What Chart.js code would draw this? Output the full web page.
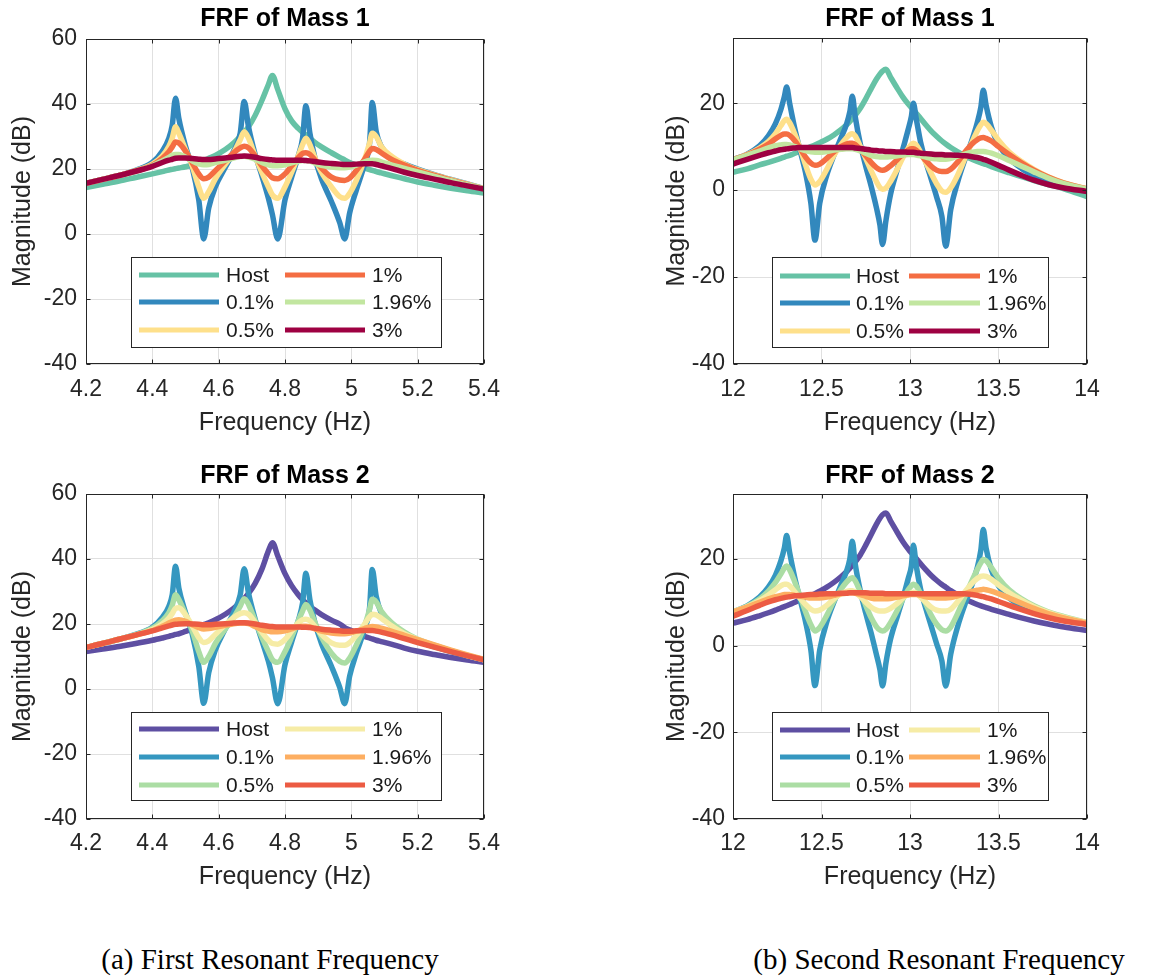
<!DOCTYPE html>
<html><head><meta charset="utf-8">
<script src="https://cdn.jsdelivr.net/npm/chart.js@4.4.1/dist/chart.umd.min.js"></script>
<style>
body{margin:0;background:#fff;width:1167px;height:976px;position:relative;overflow:hidden;}
canvas{position:absolute;}
.cap{position:absolute;font-family:'Liberation Serif','Times New Roman',serif;font-size:29px;line-height:34px;color:#000;white-space:nowrap;transform:translateX(-50%);}
</style></head><body>
<canvas id="c1" width="560" height="450" style="left:0;top:0"></canvas>
<canvas id="c2" width="587" height="450" style="left:580px;top:0"></canvas>
<canvas id="c3" width="560" height="450" style="left:0;top:450px"></canvas>
<canvas id="c4" width="587" height="450" style="left:580px;top:450px"></canvas>
<div class="cap" style="left:270px;top:942px">(a) First Resonant Frequency</div>
<div class="cap" style="left:939px;top:942px">(b) Second Resonant Frequency</div>
<script>
const seriesLabels = ['Host','0.1%','0.5%','1%','1.96%','3%'];
const colorsMass1 = ['#66c2a5','#3288bd','#fee08b','#f46d43','#c2e6a0','#9e0142'];
const colorsMass2 = ['#5e4fa2','#3597c0','#abdda4','#f6eca6','#fdae61','#ec5b43'];

const xFirst = [4.20,4.25,4.30,4.35,4.40,4.43,4.45,4.46,4.47,4.48,4.50,4.52,4.54,4.555,4.57,4.59,4.62,4.645,4.665,4.677,4.69,4.71,4.73,4.75,4.762,4.778,4.80,4.82,4.84,4.853,4.863,4.875,4.89,4.91,4.94,4.965,4.98,4.995,5.015,5.04,5.055,5.063,5.075,5.09,5.12,5.16,5.20,5.25,5.30,5.35,5.40];
const xSecond = [12.00,12.08,12.15,12.20,12.24,12.27,12.29,12.303,12.32,12.35,12.38,12.41,12.44,12.463,12.49,12.53,12.57,12.61,12.64,12.66,12.674,12.69,12.72,12.75,12.78,12.81,12.83,12.845,12.864,12.89,12.93,12.96,12.99,13.008,13.019,13.035,13.06,13.09,13.12,13.15,13.18,13.202,13.23,13.27,13.31,13.35,13.38,13.40,13.414,13.43,13.46,13.50,13.56,13.63,13.70,13.78,13.87,14.00];

// Mass 1, first resonance (dB)
const m1aHost = [14.3,15.3,16.3,17.4,18.5,19.2,19.7,19.9,20.1,20.3,20.7,21.2,22.0,22.6,23.3,24.2,26.0,28.0,30.0,31.3,33.0,36.5,41.0,46.0,48.8,44.5,38.5,34.8,32.5,31.3,30.5,29.5,28.2,26.8,25.0,23.6,22.8,22.0,21.2,20.3,19.8,19.6,19.2,18.8,18.0,17.0,16.0,15.0,14.1,13.3,12.6];
const m1a01 = [15.6,16.8,18.0,19.6,22.0,25.5,29.5,33.5,41.8,35.5,27.0,20.5,10.5,-1.5,8.0,14.5,20.5,25.5,31.0,40.8,33.0,24.5,18.0,11.0,6.0,-1.5,10.5,17.5,24.0,29.5,39.5,31.0,23.5,17.0,10.0,3.5,-1.5,6.5,13.5,21.5,28.0,40.5,31.5,27.0,23.5,21.5,20.0,18.3,16.8,15.4,14.0];
const m1a05 = [15.6,16.8,18.0,19.5,21.5,24.0,27.0,29.5,33.0,31.0,26.0,21.0,14.5,11.0,13.0,17.0,21.5,25.0,29.0,31.5,29.5,24.0,19.0,14.5,12.0,11.0,14.5,19.0,24.0,27.5,29.5,27.5,23.5,19.0,14.5,11.5,11.0,12.5,16.5,23.0,28.0,31.0,30.0,27.0,24.0,21.5,19.8,18.2,16.7,15.3,14.0];
const m1a1 = [15.6,16.8,18.0,19.4,21.2,23.3,25.3,26.8,28.3,28.0,25.5,22.0,18.5,17.0,17.5,19.5,22.5,25.0,26.5,27.0,26.5,24.0,21.0,18.5,17.3,17.0,18.5,21.0,23.5,24.8,25.0,24.5,22.8,20.3,17.5,16.6,16.5,17.2,19.5,23.0,25.5,26.3,26.0,25.0,23.0,21.2,19.6,18.0,16.6,15.2,13.9];
const m1a196 = [15.6,16.8,18.0,19.3,21.0,22.5,23.6,24.2,24.5,24.5,23.6,22.5,21.6,21.3,21.4,22.0,22.7,23.4,23.8,23.9,23.7,23.0,22.0,21.3,21.0,21.0,21.3,21.9,22.4,22.6,22.6,22.4,21.8,21.1,20.6,20.4,20.4,20.6,21.2,22.2,22.6,22.7,22.6,22.2,21.3,20.2,19.1,17.7,16.4,15.1,13.9];
const m1a3 = [15.6,16.8,18.0,19.3,20.8,22.0,22.7,23.0,23.3,23.4,23.4,23.2,23.0,22.9,22.9,23.1,23.4,23.7,23.9,24.0,23.9,23.6,23.2,22.9,22.8,22.7,22.7,22.7,22.7,22.7,22.6,22.5,22.3,22.0,21.7,21.5,21.4,21.4,21.5,21.6,21.6,21.6,21.4,21.0,20.2,19.0,18.0,16.9,15.8,14.8,13.8];

// Mass 1, second resonance (dB)
const m1bHost = [4.1,4.9,5.8,6.4,6.9,7.3,7.6,7.8,8.0,8.5,9.0,9.5,10.0,10.4,10.9,11.7,12.7,13.9,15.0,15.8,16.4,17.2,18.9,21.0,23.3,25.5,26.7,27.4,27.8,26.0,23.3,21.4,19.8,19.0,18.5,17.7,16.5,15.0,13.6,12.4,11.3,10.6,9.8,8.8,7.9,7.1,6.6,6.3,6.1,5.9,5.4,4.8,4.0,3.1,2.2,1.3,0.3,-1.5];
const m1b01 = [7.0,8.3,10.2,12.5,15.3,18.5,21.5,23.7,20.0,14.0,9.0,4.0,-3.0,-11.5,-3.0,3.5,8.0,12.0,15.0,18.0,21.6,17.0,10.5,5.5,1.0,-4.0,-8.0,-12.5,-7.0,-1.0,5.0,9.5,14.0,17.0,20.0,16.5,11.0,6.5,2.5,-1.5,-6.0,-12.9,-4.5,2.0,7.0,11.5,15.5,19.0,23.0,19.5,14.5,10.5,7.3,5.0,3.4,1.9,0.8,0.3];
const m1b05 = [7.0,8.2,9.7,11.2,13.0,14.8,16.0,16.3,15.5,12.8,9.5,5.8,2.5,1.2,2.0,4.8,8.0,10.5,12.0,12.8,13.0,12.5,10.0,7.3,4.5,2.0,0.6,0.2,0.5,2.0,5.0,7.5,9.6,10.5,10.8,10.4,8.7,6.3,3.8,1.5,-0.2,-0.5,0.5,3.5,7.3,11.0,13.6,15.0,15.6,15.3,13.8,11.5,8.8,6.6,4.8,3.1,1.7,0.3];
const m1b1 = [7.0,8.1,9.4,10.6,11.8,12.6,12.9,12.9,12.6,11.3,9.5,7.6,6.2,5.7,6.0,7.3,8.8,10.0,10.6,10.8,10.8,10.5,9.3,7.9,6.4,5.2,4.7,4.6,4.8,5.6,7.1,8.3,9.2,9.5,9.5,9.2,8.2,6.8,5.5,4.6,4.3,4.3,4.8,6.5,8.7,10.6,11.6,12.0,12.1,11.9,11.3,10.0,8.2,6.3,4.6,3.0,1.6,0.3];
const m1b196 = [7.0,8.0,9.0,9.7,10.2,10.4,10.5,10.5,10.4,10.0,9.5,9.1,8.8,8.7,8.7,8.9,9.2,9.4,9.5,9.5,9.5,9.4,9.0,8.5,8.0,7.7,7.6,7.6,7.6,7.7,7.9,8.1,8.2,8.2,8.2,8.1,7.9,7.6,7.3,7.2,7.1,7.1,7.3,7.8,8.3,8.7,8.9,8.9,8.9,8.8,8.5,7.9,6.8,5.5,4.2,2.8,1.5,0.2];
const m1b3 = [6.0,7.1,8.0,8.6,9.0,9.3,9.4,9.5,9.6,9.7,9.8,9.8,9.8,9.8,9.8,9.8,9.8,9.8,9.8,9.8,9.8,9.7,9.6,9.4,9.2,9.1,9.0,9.0,8.9,8.9,8.8,8.8,8.7,8.7,8.7,8.6,8.5,8.4,8.3,8.2,8.2,8.1,8.1,8.0,7.9,7.7,7.5,7.3,7.1,6.9,6.4,5.7,4.6,3.4,2.3,1.3,0.5,-0.3];

// Mass 2, first resonance (dB)
const m2aHost = [11.5,12.3,13.1,14.0,15.0,15.7,16.2,16.5,16.8,17.0,17.7,18.4,19.2,19.8,20.4,21.3,23.0,24.8,26.6,27.8,29.4,32.5,36.8,42.5,45.0,41.0,35.5,31.8,29.0,27.5,26.5,25.5,24.3,22.9,21.2,20.0,18.9,18.2,17.3,16.2,15.7,15.4,15.0,14.6,13.8,12.6,11.6,10.6,9.7,8.9,8.2];
const m2a01 = [12.8,14.0,15.3,16.8,19.0,22.0,25.5,29.0,37.8,31.0,23.5,17.0,7.0,-4.4,5.0,12.0,18.5,23.5,29.0,37.0,29.5,21.5,15.0,8.5,3.5,-4.5,7.5,14.5,21.0,26.5,35.6,27.5,20.5,14.0,7.0,0.5,-4.5,4.0,11.0,18.5,25.0,36.8,28.5,23.5,19.5,16.8,14.8,13.0,11.5,10.2,9.0];
const m2a05 = [12.8,14.0,15.3,16.7,18.7,21.0,23.5,25.8,29.0,27.5,23.0,18.0,11.5,8.2,10.0,14.0,18.5,22.0,25.5,27.8,26.0,21.0,16.0,11.5,9.0,8.2,11.5,16.0,21.0,24.0,26.0,24.3,20.5,16.0,11.0,8.5,8.0,9.5,13.5,19.5,24.5,27.6,26.8,24.0,20.5,17.5,15.3,13.4,11.8,10.3,9.0];
const m2a1 = [12.8,14.0,15.3,16.6,18.3,20.0,21.8,23.2,24.8,25.0,22.8,19.5,15.8,14.3,14.8,16.8,19.8,22.0,23.2,23.5,23.0,20.5,17.5,15.0,14.0,13.8,15.2,17.8,20.3,21.3,21.5,21.0,19.3,16.8,14.2,13.5,13.5,14.3,16.5,20.0,22.2,23.0,22.8,21.8,19.5,17.0,15.2,13.4,11.8,10.3,9.0];
const m2a196 = [12.8,14.0,15.3,16.6,18.0,19.3,20.3,20.8,21.2,21.3,20.8,19.8,18.9,18.5,18.6,19.0,19.6,20.1,20.3,20.3,20.1,19.2,18.3,17.8,17.6,17.6,17.9,18.5,19.1,19.3,19.3,19.1,18.5,17.8,17.2,17.0,17.0,17.2,17.8,18.6,19.1,19.2,19.1,18.7,17.8,16.5,15.2,13.6,12.0,10.5,9.1];
const m2a3 = [12.8,14.0,15.3,16.6,17.9,18.8,19.4,19.7,19.9,20.0,20.1,20.0,19.9,19.8,19.8,19.9,20.1,20.3,20.4,20.4,20.3,20.0,19.6,19.3,19.2,19.1,19.1,19.1,19.1,19.0,19.0,18.9,18.7,18.4,18.1,17.9,17.8,17.8,17.9,18.0,18.0,18.0,17.8,17.5,16.7,15.5,14.3,12.9,11.5,10.2,9.0];

// Mass 2, second resonance (dB)
const m2bHost = [5.2,6.0,6.9,7.6,8.2,8.7,9.0,9.2,9.5,10.0,10.6,11.1,11.6,12.0,12.6,13.5,14.6,15.9,17.0,17.9,18.5,19.3,21.0,23.2,25.6,28.0,29.4,30.2,30.6,28.8,26.0,24.0,22.3,21.4,20.9,20.1,18.9,17.5,16.2,15.1,14.1,13.5,12.7,11.7,10.8,10.0,9.5,9.2,9.0,8.8,8.4,7.9,7.2,6.4,5.7,5.0,4.3,3.5];
const m2b01 = [7.8,9.2,11.2,13.5,16.3,19.5,22.5,25.4,21.5,15.5,10.5,5.5,-1.0,-9.2,-1.0,5.5,10.0,14.0,17.0,20.0,24.1,19.0,12.5,7.5,3.0,-2.0,-5.5,-9.3,-4.0,1.5,7.0,11.0,15.5,18.5,23.2,18.5,13.0,8.5,4.5,0.5,-3.5,-9.3,-2.0,4.5,9.5,14.0,18.0,22.0,26.8,22.5,17.5,13.8,11.0,9.2,8.0,7.0,6.2,5.3];
const m2b05 = [7.8,9.1,10.8,12.6,14.6,16.5,17.9,18.4,17.5,14.6,11.3,7.8,4.8,3.4,4.2,7.0,10.3,13.0,14.6,15.4,15.7,15.0,12.3,9.3,6.5,4.4,3.6,3.4,3.8,5.3,8.3,10.8,12.9,13.8,14.2,13.8,12.0,9.6,7.0,5.0,3.7,3.4,4.3,7.5,11.3,15.0,17.6,19.1,19.9,19.6,18.0,15.6,12.9,10.8,9.2,7.8,6.7,5.3];
const m2b1 = [7.8,9.0,10.4,11.7,12.9,13.8,14.2,14.2,13.8,12.4,10.9,9.5,8.4,8.0,8.2,9.3,10.8,12.0,12.5,12.7,12.7,12.4,11.3,10.0,8.9,8.2,8.0,8.0,8.1,8.6,9.8,11.0,11.9,12.2,12.3,12.1,11.2,10.0,8.9,8.2,8.0,8.0,8.4,10.2,12.4,14.4,15.5,16.0,16.1,16.0,15.3,14.0,12.2,10.5,9.0,7.7,6.6,5.3];
const m2b196 = [7.8,8.9,10.0,10.8,11.3,11.6,11.8,11.8,11.8,11.6,11.4,11.2,11.0,11.0,11.0,11.2,11.6,12.0,12.1,12.2,12.2,12.1,11.8,11.4,11.0,10.8,10.8,10.8,10.8,10.9,11.2,11.5,11.7,11.8,11.8,11.8,11.6,11.3,11.1,11.0,11.0,11.0,11.1,11.5,12.0,12.5,12.8,12.9,13.0,12.9,12.6,12.0,11.0,9.8,8.6,7.4,6.4,5.2];
const m2b3 = [6.8,8.1,9.3,10.1,10.6,10.9,11.1,11.2,11.3,11.5,11.6,11.7,11.8,11.8,11.9,12.0,12.0,12.1,12.1,12.2,12.2,12.2,12.2,12.2,12.1,12.1,12.1,12.1,12.0,12.0,12.0,12.0,12.0,12.0,12.0,12.0,12.0,12.0,12.0,12.0,12.0,12.0,12.0,12.0,12.0,11.8,11.6,11.4,11.3,11.1,10.8,10.2,9.3,8.3,7.4,6.5,5.7,4.9];

const FONT = "'Liberation Sans', Arial, Helvetica, sans-serif";
const INK = '#262626';

const framePlugin = {
  id: 'frame',
  afterDatasetsDraw(chart, args, opts) {
    const {ctx, chartArea: a, scales} = chart;
    ctx.save();
    ctx.strokeStyle = INK; ctx.lineWidth = 1;
    const L = Math.round(a.left) + 0.5, R = Math.round(a.right) - 0.5;
    const T = Math.round(a.top) + 0.5, B = Math.round(a.bottom) - 0.5;
    ctx.beginPath();
    scales.x.ticks.forEach(t => {
      const p = Math.round(scales.x.getPixelForValue(t.value)) + 0.5;
      ctx.moveTo(p, B); ctx.lineTo(p, B - 4);
      ctx.moveTo(p, T); ctx.lineTo(p, T + 4);
    });
    scales.y.ticks.forEach(t => {
      const p = Math.round(scales.y.getPixelForValue(t.value)) + 0.5;
      ctx.moveTo(L, p); ctx.lineTo(L + 4, p);
      ctx.moveTo(R, p); ctx.lineTo(R - 4, p);
    });
    ctx.stroke();
    ctx.strokeRect(L, T, R - L, B - T);
    const lg = opts.legend;
    if (lg) {
      const [x1, y1, x2, y2] = lg.box;
      ctx.fillStyle = '#fff';
      ctx.fillRect(x1, y1, x2 - x1, y2 - y1);
      ctx.strokeStyle = INK; ctx.lineWidth = 1;
      ctx.strokeRect(x1 + 0.5, y1 + 0.5, x2 - x1, y2 - y1);
      ctx.font = '21px ' + FONT;
      ctx.textBaseline = 'middle';
      ctx.textAlign = 'left';
      chart.data.datasets.forEach((ds, i) => {
        const col = Math.floor(i / 3), row = i % 3;
        const y = lg.rows[row];
        ctx.strokeStyle = ds.borderColor; ctx.lineWidth = 5; ctx.lineCap = 'butt';
        ctx.beginPath(); ctx.moveTo(lg.lines[col][0], y); ctx.lineTo(lg.lines[col][1], y); ctx.stroke();
        ctx.fillStyle = '#1a1a1a';
        ctx.fillText(ds.label, lg.text[col], y + 1);
      });
    }
    ctx.restore();
  }
};

function fmtTick(v) { return String(Math.round(v * 1000) / 1000); }

function makeChart(id, cfg) {
  const datasets = cfg.series.map((ys, i) => ({
    label: seriesLabels[i],
    data: cfg.xs.map((x, j) => ({x: x, y: ys[j]})),
    borderColor: cfg.colors[i],
    backgroundColor: cfg.colors[i],
    borderWidth: 5.5,
    pointRadius: 0,
    fill: false,
    cubicInterpolationMode: 'monotone',
    borderCapStyle: 'round',
    borderJoinStyle: 'round',
    order: 6 - i
  }));
  return new Chart(document.getElementById(id), {
    type: 'line',
    data: {datasets},
    plugins: [framePlugin],
    options: {
      responsive: false,
      devicePixelRatio: 1,
      animation: false,
      events: [],
      layout: {padding: {left: 0, top: 0, bottom: 0, right: cfg.padRight}},
      plugins: {
        legend: {display: false},
        tooltip: {enabled: false},
        title: {display: true, text: cfg.title, fullSize: false, color: '#000',
          font: {family: FONT, size: 25, weight: 'bold', lineHeight: 1.2},
          padding: {top: cfg.titlePad[0], bottom: cfg.titlePad[1]}},
        frame: {legend: cfg.legend}
      },
      scales: {
        x: {
          type: 'linear', min: cfg.xMin, max: cfg.xMax,
          ticks: {stepSize: cfg.xStep, padding: cfg.xTickPad, color: INK, maxRotation: 0, autoSkip: false,
            font: {family: FONT, size: 23, lineHeight: 1.2}, callback: v => fmtTick(v)},
          grid: {color: '#e0e0e0', drawTicks: false, lineWidth: 1},
          border: {display: false},
          title: {display: true, text: 'Frequency (Hz)', color: INK,
            font: {family: FONT, size: 25, lineHeight: 1.2}, padding: {top: 0, bottom: cfg.xTitlePad}},
          afterFit: s => { s.height = cfg.xAxisH; }
        },
        y: {
          type: 'linear', min: cfg.yMin, max: cfg.yMax,
          ticks: {stepSize: 20, padding: cfg.yTickPad, color: INK,
            font: {family: FONT, size: 23, lineHeight: 1.2}, callback: v => fmtTick(v)},
          grid: {color: '#e0e0e0', drawTicks: false, lineWidth: 1},
          border: {display: false},
          title: {display: true, text: 'Magnitude (dB)', color: INK,
            font: {family: FONT, size: 25, lineHeight: 1.2}, padding: {top: cfg.yTitlePad, bottom: 0}},
          afterBuildTicks: s => { s.ticks = s.ticks.filter(t => Math.abs(t.value % 20) < 1e-9); },
          afterFit: s => { s.width = cfg.yAxisW; }
        }
      }
    }
  });
}

const legendLeftTop = {box: [131, 257, 441, 347], lines: [[139, 219], [285, 365]], text: [226, 372], rows: [275, 302, 330]};
const legendRightTop = {box: [192, 257, 468, 347], lines: [[200, 270], [329, 400]], text: [276, 407], rows: [276, 303, 331]};
const legendLeftBot = {box: [131, 262, 441, 350], lines: [[139, 219], [285, 365]], text: [226, 372], rows: [279, 307, 335]};
const legendRightBot = {box: [192, 262, 468, 350], lines: [[200, 270], [329, 400]], text: [276, 407], rows: [280, 307, 335]};

makeChart('c1', {title: 'FRF of Mass 1', xs: xFirst, series: [m1aHost, m1a01, m1a05, m1a1, m1a196, m1a3], colors: colorsMass1,
  xMin: 4.2, xMax: 5.4, xStep: 0.2, yMin: -40, yMax: 60, padRight: 76, titlePad: [4.5, 4.5],
  xAxisH: 86, xTitlePad: 12, xTickPad: 12, yAxisW: 86, yTitlePad: 8, yTickPad: 9, legend: legendLeftTop});
makeChart('c2', {title: 'FRF of Mass 1', xs: xSecond, series: [m1bHost, m1b01, m1b05, m1b1, m1b196, m1b3], colors: colorsMass1,
  xMin: 12, xMax: 14, xStep: 0.5, yMin: -40, yMax: 35, padRight: 80, titlePad: [4, 4],
  xAxisH: 86, xTitlePad: 12, xTickPad: 12, yAxisW: 153, yTitlePad: 82, yTickPad: 8, legend: legendRightTop});
makeChart('c3', {title: 'FRF of Mass 2', xs: xFirst, series: [m2aHost, m2a01, m2a05, m2a1, m2a196, m2a3], colors: colorsMass2,
  xMin: 4.2, xMax: 5.4, xStep: 0.2, yMin: -40, yMax: 60, padRight: 76, titlePad: [11.5, 2.5],
  xAxisH: 81, xTitlePad: 7.5, xTickPad: 11, yAxisW: 86, yTitlePad: 8, yTickPad: 9, legend: legendLeftBot});
makeChart('c4', {title: 'FRF of Mass 2', xs: xSecond, series: [m2bHost, m2b01, m2b05, m2b1, m2b196, m2b3], colors: colorsMass2,
  xMin: 12, xMax: 14, xStep: 0.5, yMin: -40, yMax: 35, padRight: 80, titlePad: [11.5, 2.5],
  xAxisH: 81, xTitlePad: 7.5, xTickPad: 11, yAxisW: 153, yTitlePad: 82, yTickPad: 8, legend: legendRightBot});
</script>
</body></html>
